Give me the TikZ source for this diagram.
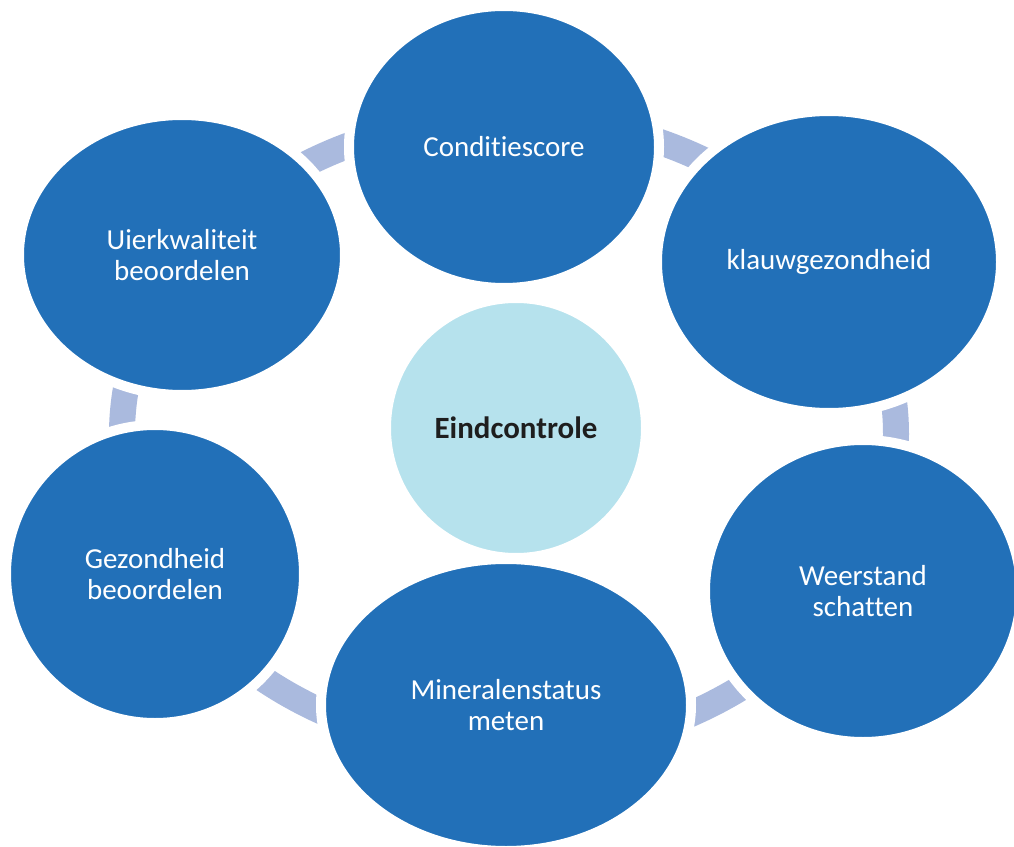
\documentclass[tikz,border=0pt]{standalone}
\usepackage{fontspec}
\setmainfont{Carlito}[Ligatures=NoCommon]
\usetikzlibrary{shapes.geometric}
\definecolor{cStep}{RGB}{34,112,184}
\definecolor{cRing}{RGB}{170,186,222}
\definecolor{cHub}{RGB}{182,226,237}
\definecolor{cHubText}{RGB}{30,30,30}
\def\px{0.025cm}
\tikzset{
	ring/.style   ={draw=cRing, line width=26*\px},
	stage/.style  ={ellipse, fill=cStep, draw=white, line width=10*\px, inner sep=0pt, align=center, text=white, font=\fontsize{20.6}{22.6}\selectfont},
	hub/.style    ={ellipse, fill=cHub, draw=white, line width=2*\px, inner sep=0pt, align=center, text=cHubText, font=\fontsize{22}{26}\selectfont\bfseries},
	stagesize/.style 2 args={minimum width={(2*#1+10)*\px}, minimum height={(2*#2+10)*\px}},
}
\begin{document}
\begin{tikzpicture}[x=\px, y=-\px]
	\useasboundingbox (0,0) rectangle (1014,847);
	% ring behind the stages
	\draw[ring] (509,434) ellipse [x radius=387*\px, y radius=317*\px];
	% hub
	\node[hub, minimum width=252*\px, minimum height=252*\px] (hub) at (516,428) {Eindcontrole};
	% stages, clockwise from the top
	\node[stage, stagesize={150}{136}] (conditie)  at (504,147) {Conditiescore};
	\node[stage, stagesize={167}{146}] (klauw)     at (829,262) {klauwgezondheid};
	\node[stage, stagesize={153}{146}] (weerstand) at (863,591) {Weerstand\\schatten};
	\node[stage, stagesize={180}{141}] (mineraal)  at (506,705) {Mineralenstatus\\meten};
	\node[stage, stagesize={144}{144}] (gezond)    at (155,574) {Gezondheid\\beoordelen};
	\node[stage, stagesize={158}{135}] (uier)      at (182,255) {Uierkwaliteit\\beoordelen};
\end{tikzpicture}
\end{document}
